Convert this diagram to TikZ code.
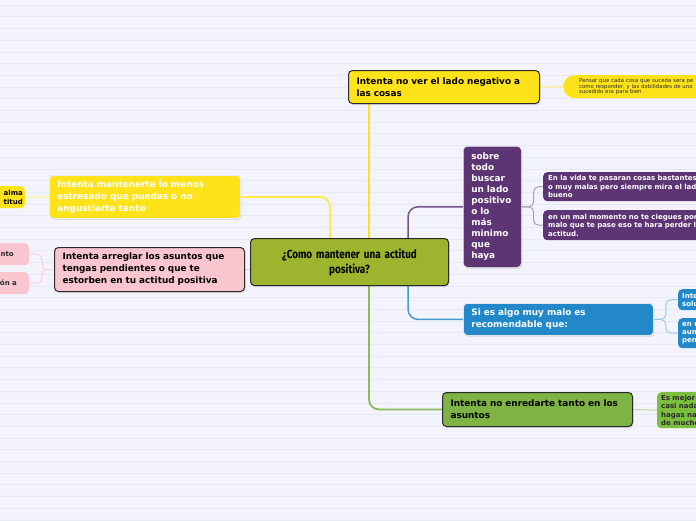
\documentclass[tikz,border=0pt]{standalone}
\usepackage{fontspec}
\newfontfamily\vfont{DejaVu Sans}
\newfontfamily\cfont[FakeStretch=0.84]{Fira Sans}
\usetikzlibrary{shadows}
\pgfdeclarelayer{back}
\pgfdeclarelayer{conn}
\pgfsetlayers{back,conn,main}
\definecolor{bg}{HTML}{F3F4FB}
\definecolor{bgline}{HTML}{E7E9F5}
\definecolor{ylw}{HTML}{FFE31A}
\definecolor{prp}{HTML}{5D3574}
\definecolor{blu}{HTML}{2388CA}
\definecolor{grn}{HTML}{7DB443}
\definecolor{grnsub}{HTML}{7CBF3F}
\definecolor{olv}{HTML}{9DB52E}
\definecolor{pnk}{HTML}{F9C5CF}
\definecolor{dk}{HTML}{2B2B2B}
\tikzset{
  x=1pt, y=-1pt,
  box/.style={anchor=north west, rounded corners=4pt, inner ysep=0pt, align=left,
    font=\vfont\bfseries\fontsize{8.9}{12}\selectfont,
    drop shadow={opacity=0.2, shadow xshift=1pt, shadow yshift=-1.5pt}},
  subbox/.style={rounded corners=4pt, inner ysep=0pt, align=left,
    font=\vfont\bfseries\fontsize{7}{8.4}\selectfont},
  cmain/.style={line width=1.8pt},
  csub/.style={line width=1pt, rounded corners=5pt},
}
\begin{document}
\begin{tikzpicture}
\clip (0,0) rectangle (696,520);
\begin{pgfonlayer}{back}
\fill[bg] (0,0) rectangle (696,520);
\foreach \i in {0,...,44} \draw[bgline, line width=0.6pt] (0,{5+\i*11.7}) -- (696,{5+\i*11.7});
\end{pgfonlayer}

% central
\node[box, fill=olv, draw=dk, line width=1.1pt, text=black, minimum width=198pt, minimum height=47pt,
  text width=190pt, inner xsep=4pt, align=center, font=\cfont\bfseries\fontsize{11.8}{15}\selectfont]
  (c) at (250,238) {¿Como mantener una actitud\\positiva?};

% top yellow
\node[box, fill=ylw, draw=dk, line width=1pt, text=black, text width=175pt, inner xsep=8pt, minimum height=33pt]
  (top) at (348,70) {Intenta no ver el lado negativo a\\las cosas};
\node[anchor=north west, fill=ylw, rounded corners=11.5pt, minimum width=160pt, minimum height=23pt,
  text width=140pt, inner xsep=16pt, inner ysep=0pt, align=left, text=dk,
  font=\vfont\fontsize{5.4}{5.8}\selectfont]
  (pill) at (563,75) {Pensar que cada cosa que suceda sera pe\\como responder, y las debilidades de uno\\sucedido era para bien};

% purple
\node[box, fill=prp, draw=white!85!prp, line width=0.6pt, text=white, text width=42pt, inner xsep=8pt, minimum height=121pt,
  font=\vfont\bfseries\fontsize{8.9}{11}\selectfont]
  (pu) at (463,146) {sobre\\todo\\buscar\\un lado\\positivo\\o lo\\más\\minimo\\que\\haya};
\node[subbox, anchor=north west, fill=prp, text=white, text width=180pt, inner xsep=5pt, minimum height=29pt]
  (ps1) at (543,172) {En la vida te pasaran cosas bastantes\\o muy malas pero siempre mira el lado\\bueno};
\node[subbox, anchor=north west, fill=prp, text=white, text width=180pt, inner xsep=5pt, minimum height=30pt]
  (ps2) at (543,210) {en un mal momento no te ciegues por\\malo que te pase eso te hara perder la\\actitud.};

% blue
\node[box, fill=blu, draw=white!80!gray, line width=0.8pt, text=white, text width=174pt, inner xsep=8pt, minimum height=32pt]
  (bl) at (463,303) {Si es algo muy malo es\\recomendable que:};
\node[subbox, anchor=north west, fill=blu, text=white, text width=60pt, inner xsep=4pt, minimum height=21pt]
  (bs1) at (678,289) {Inte\\solu};
\node[subbox, anchor=north west, fill=blu, text=white, text width=60pt, inner xsep=4pt, minimum height=30pt]
  (bs2) at (678,318) {en u\\aun\\pen};

% green
\node[box, fill=grn, draw=dk, line width=1pt, text=black, text width=174pt, inner xsep=8pt, minimum height=34pt]
  (gn) at (442,392) {Intenta no enredarte tanto en los\\asuntos};
\node[subbox, anchor=north west, fill=grnsub, text=dk, text width=80pt, inner xsep=4pt, minimum height=36pt]
  (gs) at (657,392) {Es mejor\\casi nada\\hagas na\\de mucho};

% left yellow
\node[box, fill=ylw, draw=white!85!gray, line width=0.8pt, text=white, text width=175pt, inner xsep=8pt, minimum height=43pt]
  (ly) at (49,175) {Intenta mantenerte lo menos\\estresado que puedas o no\\angustiarte tanto};
\node[subbox, anchor=north east, fill=ylw, text=black, text width=100pt, inner xsep=2pt, minimum height=22pt, align=right]
  (ys) at (25,186) {alma\\titud};

% left pink
\node[box, fill=pnk, draw=dk, line width=1pt, text=black, text width=174pt, inner xsep=8pt, minimum height=44pt]
  (pk) at (54,247) {Intenta arreglar los asuntos que\\tengas pendientes o que te\\estorben en tu actitud positiva};
\node[subbox, anchor=north east, fill=pnk, text=dk, text width=100pt, inner xsep=15pt, minimum height=22pt, align=right]
  (pks1) at (29,243) {unto};
\node[subbox, anchor=north east, fill=pnk, text=dk, text width=100pt, inner xsep=12pt, minimum height=22pt, align=right]
  (pks2) at (29,272) {ón a};

% connectors
\begin{pgfonlayer}{conn}
\draw[cmain, color=ylw!80!white, rounded corners=10pt] ([xshift=80pt]c.north west) |- (ly.east);
\draw[cmain, color=ylw] ([xshift=119pt]c.north west) -- ([xshift=21pt]top.south west);
\draw[cmain, color=prp!85!white, line width=1.5pt, rounded corners=10pt] ([xshift=158pt]c.north west) |- (pu.west);
\draw[cmain, color=blu!85!white, line width=1.5pt, rounded corners=10pt] ([xshift=158pt]c.south west) |- (bl.west);
\draw[cmain, color=grn!90!white, rounded corners=10pt] ([xshift=119pt]c.south west) |- (gn.west);
\draw[cmain, color=pnk] (pk.east) -- (pk.east -| c.west);
\draw[csub, color=ylw!55!white] (top.east) -- (pill.west);
\draw[csub, color=prp!50!white] (pu.east) -- ++(12,0) |- (ps1.west);
\draw[csub, color=prp!50!white] (pu.east) -- ++(12,0) |- (ps2.west);
\draw[csub, color=blu!45!white] (bl.east) -- ++(12,0) |- (bs1.west);
\draw[csub, color=blu!45!white] (bl.east) -- ++(12,0) |- (bs2.west);
\draw[csub, color=grn!50!white] (gn.east) -- (gs.west);
\draw[csub, color=ylw!55!white] (ly.west) -- (ys.east);
\draw[csub, color=pnk!80!white] (pk.west) -- ++(-12,0) |- (pks1.east);
\draw[csub, color=pnk!80!white] (pk.west) -- ++(-12,0) |- (pks2.east);
\end{pgfonlayer}
\end{tikzpicture}
\end{document}
